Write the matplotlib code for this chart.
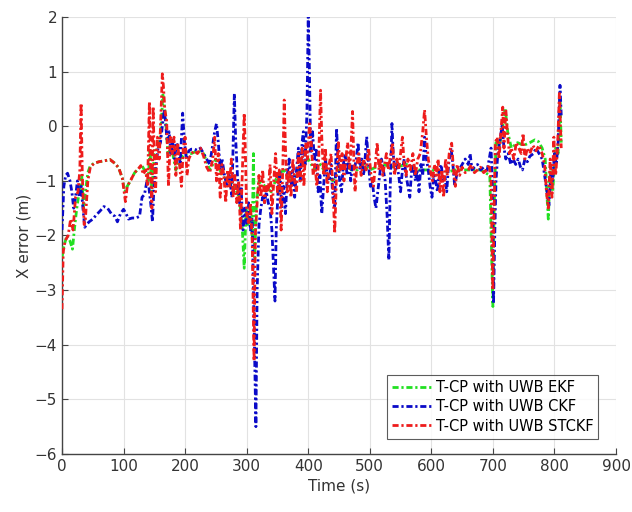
import matplotlib
matplotlib.use("Agg")
import matplotlib.pyplot as plt

# ---- data ----
stckf_t = [0, 2, 5, 10, 14, 18, 22, 26, 29, 31, 33, 36, 38, 42, 46, 52, 60, 70, 78, 86, 92, 98, 103, 106, 112, 118, 124, 128, 132, 136, 139, 142, 144, 146, 148, 150, 152, 155, 158, 161, 163, 165, 167, 170, 173, 176, 179, 182, 185, 188, 191, 194, 197, 200, 203, 206, 210, 215, 220, 225, 230, 235, 240, 245, 248, 251, 254, 257, 260, 263, 266, 269, 272, 275, 278, 281, 284, 287, 290, 293, 296, 298, 300, 303, 306, 309, 312, 314, 317, 320, 323, 326, 329, 332, 335, 338, 341, 344, 347, 350, 353, 356, 359, 361, 363, 366, 369, 372, 375, 378, 381, 384, 387, 390, 393, 396, 399, 402, 405, 408, 411, 414, 417, 420, 422, 425, 428, 431, 434, 437, 440, 443, 446, 449, 452, 455, 458, 461, 464, 467, 469, 472, 474, 476, 479, 482, 486, 490, 494, 498, 502, 506, 509, 512, 515, 518, 521, 524, 527, 530, 533, 537, 540, 544, 547, 550, 553, 556, 559, 562, 566, 570, 574, 578, 582, 586, 589, 592, 595, 598, 602, 605, 608, 611, 614, 617, 620, 623, 626, 629, 633, 636, 639, 642, 646, 650, 655, 660, 665, 670, 675, 680, 685, 690, 694, 697, 699, 700, 702, 704, 707, 710, 713, 716, 718, 721, 724, 727, 730, 734, 738, 742, 746, 749, 752, 756, 760, 765, 770, 775, 780, 784, 787, 790, 793, 796, 799, 802, 805, 808, 810, 811]
stckf_y = [-3.35, -2.3, -2.1, -2.0, -1.7, -1.9, -1.3, -1.2, -0.8, 0.42, -0.9, -1.8, -1.7, -1.0, -0.75, -0.68, -0.65, -0.63, -0.61, -0.68, -0.76, -0.95, -1.38, -1.1, -0.98, -0.85, -0.78, -0.72, -0.88, -0.8, -1.1, 0.45, -0.9, -1.5, 0.36, -0.6, -1.2, -0.2, -0.6, 0.3, 0.96, 0.7, 0.3, 0.1, -1.1, -0.2, -0.5, -0.2, -0.9, -0.3, -0.7, -1.1, -0.4, -0.2, -0.9, -0.6, -0.5, -0.45, -0.5, -0.4, -0.55, -0.75, -0.85, -0.6, -0.2, -1.0, -0.5, -1.3, -0.7, -0.9, -1.4, -0.8, -1.1, -0.6, -1.3, -0.9, -1.4, -1.0, -1.9, -0.8, 0.24, -0.5, -1.6, -1.8, -1.4, -2.1, -4.3, -2.0, -1.4, -0.9, -1.3, -0.8, -1.4, -1.1, -1.2, -0.7, -1.6, -1.0, -0.5, -1.2, -0.8, -1.9, -0.6, 0.48, -0.4, -1.2, -0.8, -1.3, -0.6, -1.0, -1.2, -0.5, -1.0, -0.4, -1.1, -0.3, -0.6, 0.05, -0.3, -0.9, -0.7, -1.1, -0.6, 0.66, -0.2, -0.9, -0.4, -1.2, -0.7, -0.5, -1.1, -1.96, -0.9, -0.3, -0.8, -0.5, -1.0, -0.6, -0.3, -0.8, -0.5, 0.27, -0.6, -1.2, -0.7, -0.5, -0.9, -0.6, -0.8, -0.4, -0.9, -1.1, -0.7, -0.3, -0.8, -0.6, -0.9, -0.7, -0.5, -0.8, -0.6, -0.3, -0.9, -0.6, -0.8, -0.5, -0.2, -0.7, -0.9, -0.6, -0.8, -0.5, -0.9, -0.6, -0.5, -0.1, 0.30, -0.2, -0.6, -0.8, -1.0, -0.7, -0.9, -0.6, -1.2, -0.8, -1.3, -0.6, -0.9, -0.5, -0.31, -0.8, -1.1, -0.7, -0.9, -0.75, -0.85, -0.8, -0.7, -0.85, -0.8, -0.75, -0.85, -0.8, -0.7, -1.0, -2.5, -3.0, -1.5, -0.3, -0.2, -0.6, -0.1, 0.35, -0.4, 0.3, -0.2, -0.5, -0.4, -0.6, -0.3, -0.4, -0.5, -0.13, -0.6, -0.4, -0.5, -0.35, -0.45, -0.35, -0.5, -0.7, -1.2, -1.5, -0.6, -1.3, -0.2, -0.9, -0.4, 0.6, -0.1, -0.4]

ckf_t = [0, 3, 6, 9, 13, 16, 19, 22, 25, 28, 31, 34, 37, 40, 44, 50, 56, 62, 68, 74, 80, 86, 90, 95, 100, 104, 108, 114, 120, 126, 130, 134, 138, 141, 144, 147, 149, 152, 156, 160, 163, 166, 168, 171, 174, 177, 180, 183, 186, 189, 192, 196, 199, 202, 206, 210, 215, 220, 225, 230, 235, 240, 244, 248, 251, 254, 257, 260, 264, 268, 272, 276, 280, 282, 285, 288, 291, 294, 297, 300, 303, 306, 309, 312, 315, 317, 320, 323, 326, 329, 332, 335, 338, 341, 344, 346, 348, 351, 354, 357, 360, 363, 366, 369, 372, 375, 378, 381, 384, 387, 390, 392, 395, 398, 400, 402, 404, 407, 410, 413, 416, 419, 422, 425, 428, 431, 434, 437, 440, 443, 446, 448, 451, 454, 457, 460, 463, 466, 469, 472, 475, 478, 481, 484, 487, 490, 493, 495, 498, 501, 504, 507, 510, 513, 516, 519, 522, 525, 528, 531, 533, 536, 538, 541, 544, 547, 550, 553, 556, 559, 562, 565, 568, 571, 574, 577, 580, 583, 586, 589, 592, 595, 598, 601, 604, 607, 610, 613, 616, 619, 622, 625, 628, 632, 635, 638, 641, 645, 650, 655, 660, 663, 666, 670, 675, 680, 685, 690, 694, 697, 699, 700, 701, 703, 705, 708, 711, 715, 718, 721, 725, 729, 733, 737, 741, 745, 748, 752, 756, 760, 766, 770, 775, 780, 784, 788, 791, 794, 797, 800, 803, 806, 809, 811]
ckf_y = [-1.9, -1.1, -0.9, -0.86, -1.0, -1.2, -1.5, -1.3, -1.0, -1.3, -1.1, -1.5, -1.85, -1.8, -1.75, -1.7, -1.62, -1.55, -1.47, -1.5, -1.6, -1.65, -1.75, -1.6, -1.52, -1.6, -1.7, -1.68, -1.68, -1.65, -1.3, -1.25, -1.0, -1.1, -1.4, -1.75, -1.2, -0.8, -0.4, -0.3, 0.0, 0.3, 0.1, -0.3, -0.1, -0.5, -0.25, -0.6, -0.3, -0.4, -0.7, 0.24, -0.3, -0.6, -0.45, -0.42, -0.42, -0.44, -0.4, -0.5, -0.6, -0.7, -0.4, -0.1, 0.05, -0.3, -0.8, -0.6, -0.9, -1.1, -0.9, -1.3, 0.6, -0.2, -0.9, -1.4, -1.1, -1.9, -1.5, -1.8, -1.4, -1.9, -1.7, -3.6, -5.5, -3.0, -1.8, -1.5, -1.3, -1.4, -1.2, -1.4, -1.5, -1.9, -2.7, -3.2, -1.9, -1.2, -0.8, -1.5, -1.1, -1.6, -0.9, -0.6, -1.1, -0.8, -1.3, -0.8, -0.4, -1.0, -0.3, -0.1, -0.7, 0.3, 2.0, 1.0, -0.5, -0.1, -0.6, -0.4, -1.2, -0.9, -1.6, -1.1, -0.6, -0.9, -1.0, -0.7, -1.3, -1.5, -0.04, -0.5, -1.0, -1.2, -0.7, -0.5, -0.9, -0.6, -1.0, -0.7, -0.8, -0.6, -0.3, -0.8, -0.6, -0.9, -0.5, -0.19, -0.7, -1.1, -1.0, -1.3, -1.5, -1.2, -0.9, -0.6, -0.8, -1.0, -1.6, -2.45, -1.2, 0.05, -0.5, -0.8, -0.7, -0.9, -1.2, -0.8, -0.6, -0.9, -1.1, -1.3, -0.8, -0.7, -1.0, -0.8, -1.2, -0.7, -0.9, -0.2, -0.6, -0.8, -1.1, -1.3, -0.9, -1.0, -1.2, -0.8, -0.7, -1.0, -0.9, -1.2, -0.7, -0.4, -0.7, -1.1, -0.9, -0.8, -0.7, -0.6, -0.7, -0.5, -0.8, -0.75, -0.7, -0.8, -0.75, -0.85, -0.6, -0.4, -1.0, -2.3, -3.25, -2.0, -1.0, -0.5, -0.3, 0.02, -0.4, -0.6, -0.5, -0.7, -0.6, -0.7, -0.6, -0.75, -0.8, -0.6, -0.65, -0.55, -0.5, -0.4, -0.5, -0.6, -0.9, -1.2, -1.45, -0.9, -1.0, -0.5, -0.7, -0.3, 0.75, 0.2]

ekf_t = [0, 3, 8, 13, 17, 20, 24, 28, 32, 35, 38, 42, 46, 52, 60, 70, 78, 86, 92, 98, 102, 106, 112, 118, 124, 130, 136, 140, 143, 146, 150, 155, 160, 164, 168, 172, 178, 185, 192, 200, 210, 220, 230, 240, 250, 260, 270, 280, 288, 293, 296, 299, 302, 306, 309, 311, 313, 316, 320, 330, 340, 350, 360, 370, 380, 390, 400, 410, 420, 430, 440, 450, 460, 470, 480, 490, 500, 520, 540, 560, 580, 600, 620, 640, 660, 680, 695, 698, 700, 702, 705, 710, 716, 720, 724, 730, 740, 750, 760, 768, 774, 780, 785, 788, 790, 793, 797, 802, 806, 809, 811]
ekf_y = [-2.4, -2.2, -2.0, -2.1, -2.25, -1.9, -1.5, -1.2, -0.9, -1.5, -1.2, -0.85, -0.72, -0.68, -0.65, -0.63, -0.61, -0.68, -0.76, -0.95, -1.2, -1.1, -0.98, -0.85, -0.78, -0.72, -0.85, -1.0, -0.4, -1.2, -0.5, -0.4, -0.2, 0.6, 0.2, -0.5, -0.4, -0.8, -0.6, -0.5, -0.5, -0.45, -0.5, -0.8, -0.6, -0.9, -1.0, -1.1, -1.3, -1.9, -2.6, -1.5, -1.8, -1.5, -2.0, -0.5, -2.4, -1.4, -1.0, -1.1, -1.2, -0.9, -0.8, -1.0, -0.9, -0.7, -0.6, -0.8, -0.7, -0.9, -1.0, -0.8, -0.7, -0.8, -0.8, -0.7, -0.8, -0.7, -0.75, -0.7, -0.8, -0.8, -0.85, -0.8, -0.8, -0.8, -0.9, -2.4, -3.3, -1.5, -0.3, -0.4, 0.0, 0.33, -0.1, -0.4, -0.3, -0.35, -0.3, -0.25, -0.28, -0.4, -0.6, -1.3, -1.7, -0.8, -1.2, -0.4, -0.5, 0.5, -0.3]

legend_labels = ["T-CP with UWB EKF", "T-CP with UWB CKF", "T-CP with UWB STCKF"]
x_ticks = [0, 100, 200, 300, 400, 500, 600, 700, 800, 900]
y_ticks = [-6, -5, -4, -3, -2, -1, 0, 1, 2]

# ---- figure ----
fig = plt.figure(figsize=(6.32, 5.12), dpi=100)
ax = fig.add_axes([0.0981, 0.1133, 0.8766, 0.8535])

ls = (0, (2.2, 1.0, 0.8, 1.0))
ax.plot(ekf_t, ekf_y, linestyle=ls, color='#22e022', lw=2.0, label=legend_labels[0], zorder=3)
ax.plot(ckf_t, ckf_y, linestyle=ls, color='#0a0ac8', lw=2.0, label=legend_labels[1], zorder=4)
ax.plot(stckf_t, stckf_y, linestyle=ls, color='#ee1c1c', lw=2.0, label=legend_labels[2], zorder=5)

ax.set_xlim(0, 900)
ax.set_ylim(-6, 2)
ax.set_xticks(x_ticks)
ax.set_yticks(y_ticks)
ax.grid(True, color='#e2e2e2', lw=0.8)
ax.set_axisbelow(True)
for s in ['top', 'right']:
    ax.spines[s].set_visible(False)
for s in ['left', 'bottom']:
    ax.spines[s].set_color('#444444')
    ax.spines[s].set_linewidth(1.0)
ax.tick_params(direction='in', length=4, colors='#444444', labelsize=11, labelcolor='#333333')
ax.set_xlabel("Time (s)", fontsize=11, color='#333333', labelpad=3)
ax.set_ylabel("X error (m)", fontsize=11, color='#333333', labelpad=2)

leg = ax.legend(loc='lower right', bbox_to_anchor=(0.968, 0.035), fontsize=10.5,
                frameon=True, fancybox=False, handlelength=2.7, handletextpad=0.3,
                borderpad=0.35, labelspacing=0.3, borderaxespad=0)
leg.get_frame().set_edgecolor('#333333')
leg.get_frame().set_linewidth(0.8)

fig.savefig("out.png", dpi=100)
